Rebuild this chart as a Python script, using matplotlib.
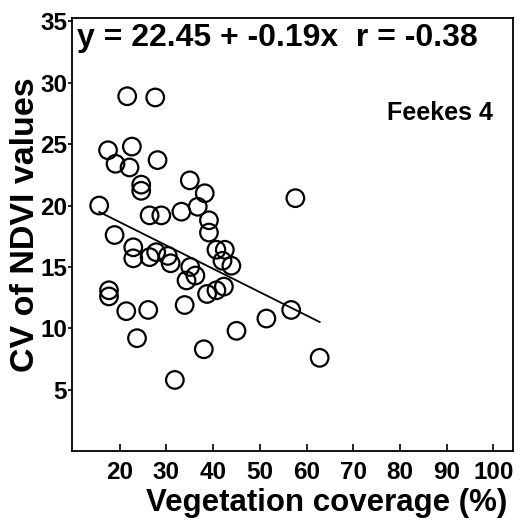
import matplotlib
matplotlib.use("Agg")
import matplotlib.pyplot as plt
import numpy as np

plt.rcParams['font.family'] = ['Liberation Sans', 'DejaVu Sans']
plt.rcParams['font.weight'] = 'bold'

# Vegetation coverage (%) and CV of NDVI values at Feekes 4
coverage = [21.6, 27.6, 17.5, 22.6, 19.1, 22.1, 28.1, 24.6, 24.6, 35.0,
            38.2, 15.6, 26.4, 28.9, 33.2, 36.7, 39.1, 39.1, 57.6, 18.9,
            22.9, 22.9, 26.4, 27.8, 30.3, 30.9, 35.1, 36.2, 34.3, 40.7,
            42.5, 42.0, 43.9, 38.7, 40.7, 42.3, 17.7, 17.7, 21.4, 26.1,
            33.9, 23.7, 45.0, 51.4, 56.7, 38.0, 31.8, 62.8]
cv_ndvi = [28.9, 28.8, 24.5, 24.8, 23.4, 23.1, 23.7, 21.7, 21.2, 22.05,
           21.0, 20.0, 19.2, 19.2, 19.5, 19.9, 18.8, 17.8, 20.6, 17.6,
           16.6, 15.7, 15.8, 16.2, 15.9, 15.3, 15.0, 14.3, 13.9, 16.4,
           16.4, 15.5, 15.1, 12.8, 13.1, 13.4, 13.1, 12.6, 11.4, 11.5,
           11.9, 9.2, 9.8, 10.8, 11.5, 8.3, 5.8, 7.6]

intercept = 22.45
slope = -0.19
r_value = -0.38

x_ticks = [20, 30, 40, 50, 60, 70, 80, 90, 100]
y_ticks = [5, 10, 15, 20, 25, 30, 35]

fig = plt.figure(figsize=(5.30, 5.21), dpi=100)
ax = fig.add_axes([0.136, 0.134, 0.832, 0.831])

ax.scatter(coverage, cv_ndvi, s=160, facecolors='none', edgecolors='black',
           linewidths=1.6, zorder=3)

xs = np.array([min(coverage), max(coverage)])
ax.plot(xs, intercept + slope * xs, color='black', linewidth=1.3, zorder=2)

ax.set_xlim(9.8, 104.2)
ax.set_ylim(0, 35.25)
ax.set_xticks(x_ticks)
ax.set_yticks(y_ticks)
ax.tick_params(axis='x', direction='in', length=5, width=1.2, labelsize=17.5, pad=7)
ax.tick_params(axis='y', direction='out', length=3, width=1.2, labelsize=17.5, pad=0.5)
for lab in ax.get_xticklabels() + ax.get_yticklabels():
    lab.set_fontweight('bold')
for sp in ax.spines.values():
    sp.set_linewidth(1.3)

ax.set_xlabel('Vegetation coverage (%)', fontsize=22.5, fontweight='bold')
ax.xaxis.set_label_coords(0.578, -0.085)
ax.set_ylabel('CV of NDVI values', fontsize=24.5, fontweight='bold')
ax.yaxis.set_label_coords(-0.07, 0.522)

ax.text(0.011, 0.954,
        f'y = {intercept:.2f} + {slope:.2f}x  r = {r_value:.2f}',
        transform=ax.transAxes, ha='left', va='center', fontsize=23, fontweight='bold')
ax.text(0.834, 0.78, 'Feekes 4', transform=ax.transAxes, ha='center', va='center',
        fontsize=18, fontweight='bold')

fig.savefig('out.png', dpi=100)
